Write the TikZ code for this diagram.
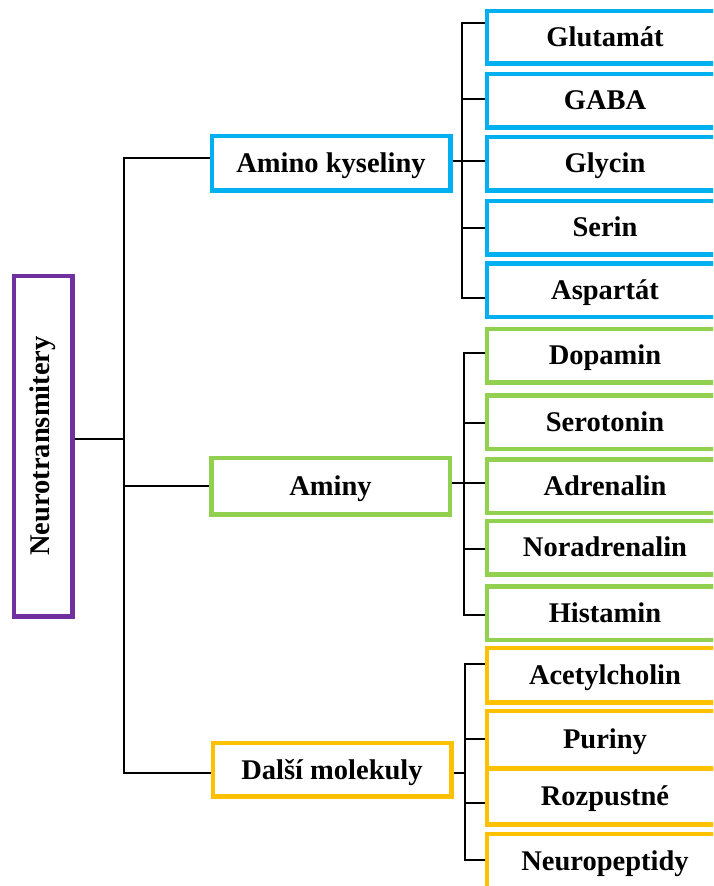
\documentclass[tikz,border=0pt]{standalone}
\usepackage{fontspec}
\setmainfont{Liberation Serif}
\definecolor{cblue}{HTML}{00B0F0}
\definecolor{cgreen}{HTML}{92D050}
\definecolor{corange}{HTML}{FFC000}
\definecolor{cpurple}{HTML}{7030A0}
\begin{document}
\begin{tikzpicture}[x=1pt,y=-1pt,
  box/.style={draw, line width=3pt, fill=white, inner sep=0pt,
    font=\fontsize{28.5}{31}\selectfont\bfseries},
  mid/.style={box, minimum width=237pt, minimum height=53pt, text height=19pt, text depth=0pt},
  leaf/.style={box, minimum width=235pt, minimum height=52pt, text height=18pt, text depth=0pt},
  conn/.style={line width=2pt, black},
]
\useasboundingbox (0,0) rectangle (713,886);
\clip (0,0) rectangle (713,886);
\fill[white] (0,0) rectangle (713,886);

% nodes
\node[box, draw=cpurple, minimum width=57pt, minimum height=339pt] (root) at (43,446) {\rotatebox{90}{Neurotransmitery}};

\node[mid, draw=cblue] (amino) at (331,163) {Amino kyseliny};
\node[mid, draw=cgreen, minimum height=55pt] (aminy) at (330.5,486) {Aminy};
\node[mid, draw=corange, minimum height=52pt] (dalsi) at (332,769.5) {Další molekuly};

\node[leaf, draw=cblue, minimum height=51pt] (glu) at (605,37) {Glutamát};
\node[leaf, draw=cblue] (gaba) at (605,100.5) {GABA};
\node[leaf, draw=cblue] (gly) at (605,163.5) {Glycin};
\node[leaf, draw=cblue] (ser) at (605,227.5) {Serin};
\node[leaf, draw=cblue] (asp) at (605,290) {Aspartát};

\node[leaf, draw=cgreen] (dop) at (605,355.5) {Dopamin};
\node[leaf, draw=cgreen] (serot) at (605,422) {Serotonin};
\node[leaf, draw=cgreen] (adr) at (605,486) {Adrenalin};
\node[leaf, draw=cgreen] (nor) at (605,547.5) {Noradrenalin};
\node[leaf, draw=cgreen] (his) at (605,613) {Histamin};

\node[leaf, draw=corange, minimum height=53pt] (ace) at (605,675) {Acetylcholin};
\node[leaf, draw=corange, minimum height=56pt] (pur) at (605,739.5) {Puriny};
\node[leaf, draw=corange, minimum height=54pt] (roz) at (605,796.5) {Rozpustné};
\node[leaf, draw=corange, minimum height=53pt] (neu) at (605,861) {Neuropeptidy};

% trunk coordinates
\coordinate (T) at (124,0);
\coordinate (A) at (462,0);
\coordinate (B) at (464,0);
\coordinate (C) at (465,0);

% main level
\coordinate (pr) at ([yshift=7pt]root.east);
\coordinate (pa) at ([yshift=5pt]amino.west);
\coordinate (pd) at ([yshift=-3.5pt]dalsi.west);
\draw[conn] (pr) -- (T |- pr);
\draw[conn] (pa) -| (T |- pd) -- (pd);
\draw[conn] (aminy.west) -- (T |- aminy.west);

% amino group
\foreach \n/\s in {glu/14, gaba/1.5, gly/2.5, ser/0, asp/-8}
  {\coordinate (\n-s) at ([yshift=\s pt]\n.west);}
\draw[conn] (glu-s) -| (A |- asp-s) -- (asp-s);
\foreach \n in {gaba, gly, ser} {\draw[conn] (\n-s) -- (A |- \n-s);}
\draw[conn] ([yshift=2pt]amino.east) -- (A |- gly-s);

% aminy group
\foreach \n/\s in {dop/2.5, serot/-1, adr/3, nor/-1.5, his/-2}
  {\coordinate (\n-s) at ([yshift=\s pt]\n.west);}
\draw[conn] (dop-s) -| (B |- his-s) -- (his-s);
\foreach \n in {serot, adr, nor} {\draw[conn] (\n-s) -- (B |- \n-s);}
\draw[conn] ([yshift=3pt]aminy.east) -- (B |- adr-s);

% dalsi group
\foreach \n/\s in {ace/11, pur/0.5, roz/-6.5, neu/1}
  {\coordinate (\n-s) at ([yshift=\s pt]\n.west);}
\draw[conn] (ace-s) -| (C |- neu-s) -- (neu-s);
\foreach \n in {pur, roz} {\draw[conn] (\n-s) -- (C |- \n-s);}
\draw[conn] (pd -| dalsi.east) -- (C |- pd);

% redraw node borders over connector ends
\foreach \n/\c in {root/cpurple, amino/cblue, aminy/cgreen, dalsi/corange,
  glu/cblue, gaba/cblue, gly/cblue, ser/cblue, asp/cblue,
  dop/cgreen, serot/cgreen, adr/cgreen, nor/cgreen, his/cgreen,
  ace/corange, pur/corange, roz/corange, neu/corange}
  {\draw[\c, line width=3pt] (\n.south west) rectangle (\n.north east);}
\end{tikzpicture}
\end{document}
